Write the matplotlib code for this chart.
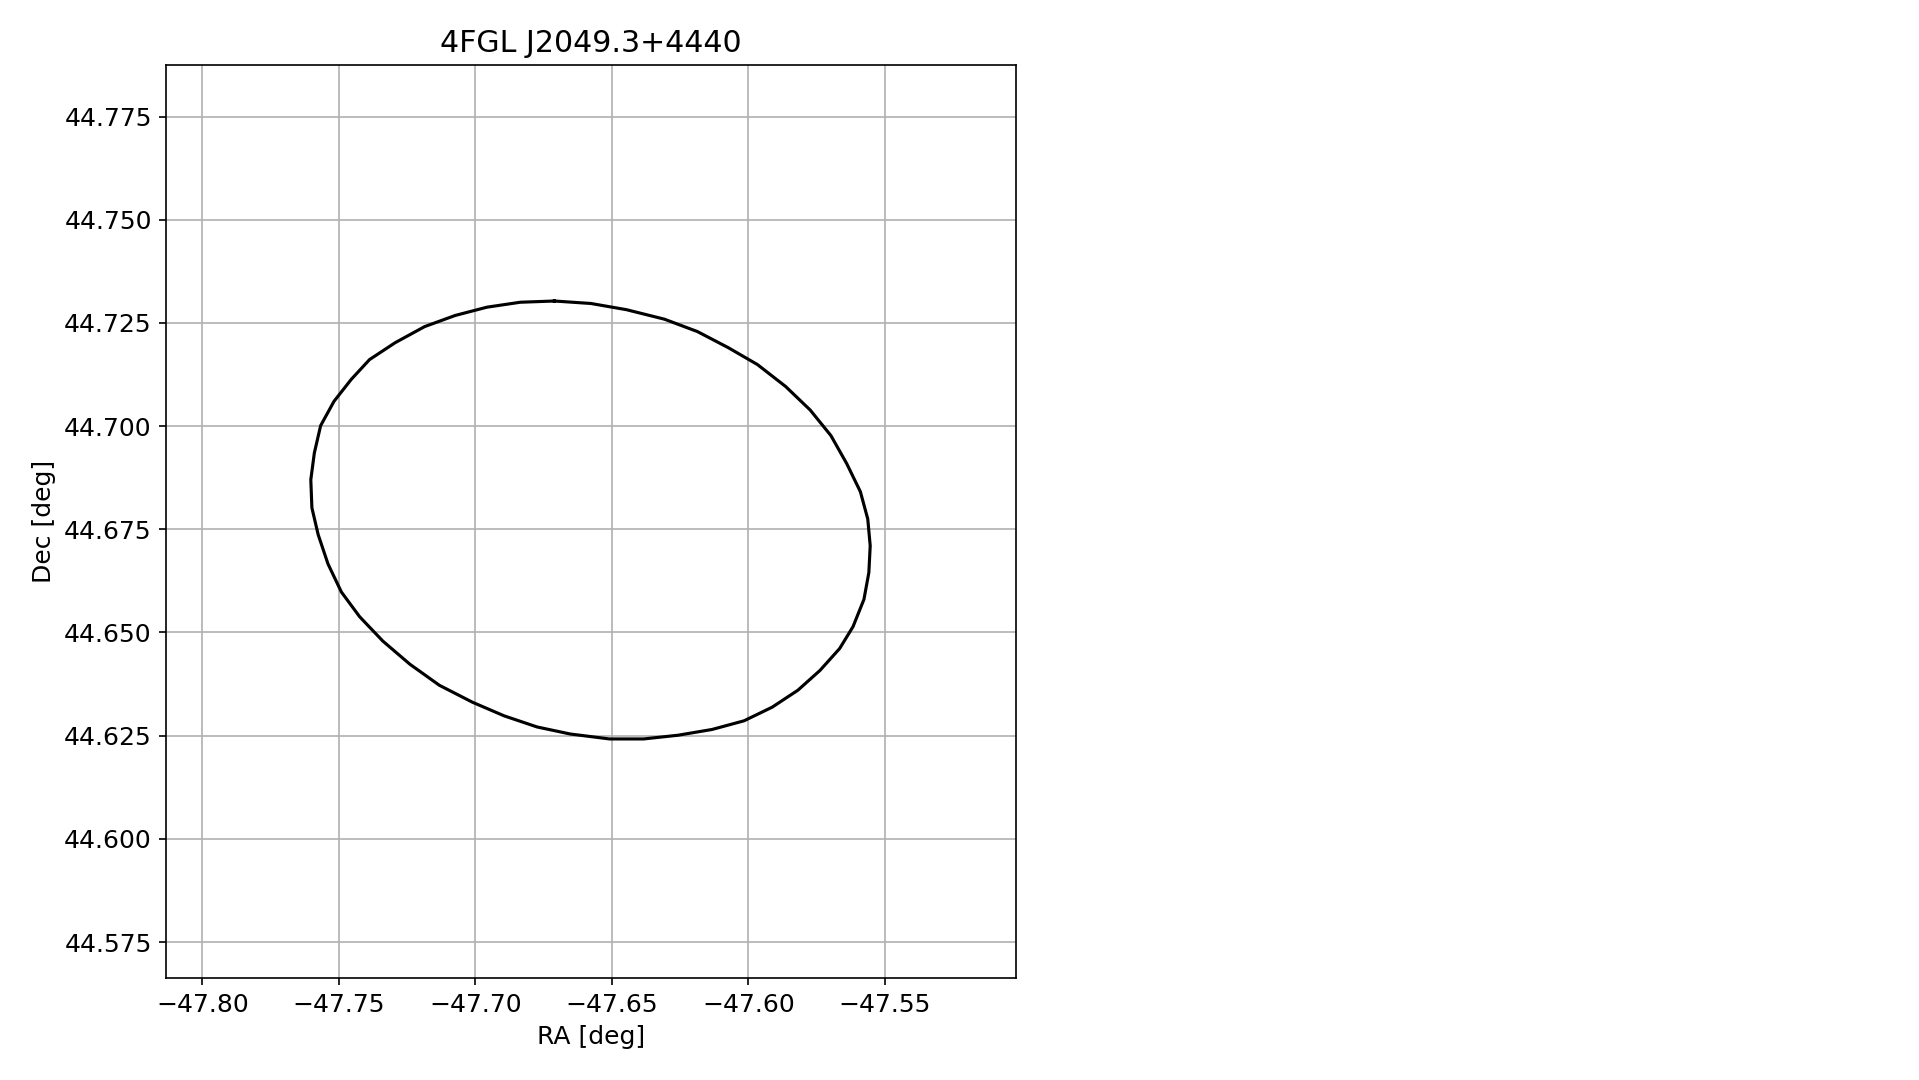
import matplotlib
matplotlib.use("Agg")
import matplotlib.pyplot as plt

title = "4FGL J2049.3+4440"
ra = [-47.6711, -47.6836, -47.6958, -47.7074, -47.7186, -47.7294, -47.7388, -47.7455,
      -47.7518, -47.7567, -47.7590, -47.7603, -47.7599, -47.7576, -47.7540, -47.7491,
      -47.7424, -47.7339, -47.7240, -47.7132, -47.7011, -47.6895, -47.6774, -47.6653,
      -47.6509, -47.6384, -47.6258, -47.6133, -47.6016, -47.5913, -47.5819, -47.5738,
      -47.5666, -47.5617, -47.5577, -47.5559, -47.5554, -47.5563, -47.5590, -47.5640,
      -47.5698, -47.5774, -47.5864, -47.5967, -47.6074, -47.6187, -47.6308, -47.6447,
      -47.6577, -47.6711]
dec = [44.7303, 44.7300, 44.7288, 44.7268, 44.7241, 44.7202, 44.7161, 44.7113,
       44.7060, 44.7001, 44.6935, 44.6870, 44.6802, 44.6737, 44.6666, 44.6598,
       44.6538, 44.6479, 44.6423, 44.6372, 44.6331, 44.6298, 44.6271, 44.6254,
       44.6242, 44.6242, 44.6251, 44.6265, 44.6286, 44.6319, 44.6360, 44.6408,
       44.6461, 44.6514, 44.6580, 44.6645, 44.6710, 44.6775, 44.6841, 44.6909,
       44.6977, 44.7039, 44.7096, 44.7149, 44.7190, 44.7229, 44.7259, 44.7282,
       44.7297, 44.7303]
xticks = [-47.80, -47.75, -47.70, -47.65, -47.60, -47.55]
yticks = [44.575, 44.600, 44.625, 44.650, 44.675, 44.700, 44.725, 44.750, 44.775]

plt.rcParams["font.size"] = 12

fig = plt.figure(figsize=(1919/150, 1080/150), dpi=150)
ax = fig.add_axes([0.0867, 0.0945, 0.4426, 0.8454])
ax.plot(ra, dec, color="black", lw=1.5)
ax.set_xlim(-47.8132, -47.5021)
ax.set_ylim(44.5663, 44.7875)
ax.set_xticks(xticks)
ax.set_xticklabels([f"{v:.2f}".replace("-", "\u2212") for v in xticks])
ax.set_yticks(yticks)
ax.set_yticklabels([f"{v:.3f}" for v in yticks])
ax.grid(True)
ax.set_xlabel("RA [deg]")
ax.set_ylabel("Dec [deg]")
ax.set_title(title)
fig.savefig("out.png", dpi=150)
